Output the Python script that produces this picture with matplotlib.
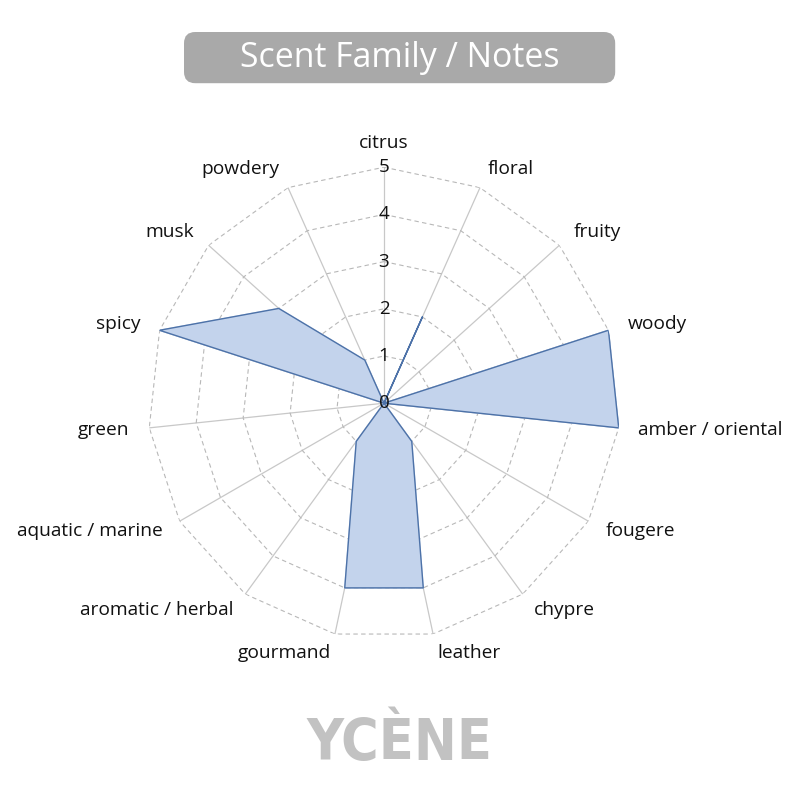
import numpy as np
import matplotlib
matplotlib.use("Agg")
import matplotlib.pyplot as plt
from matplotlib.patches import FancyBboxPatch

categories = ["citrus", "floral", "fruity", "woody", "amber / oriental", "fougere",
              "chypre", "leather", "gourmand", "aromatic / herbal", "aquatic / marine",
              "green", "spicy", "musk", "powdery"]
values = [0, 2, 0, 5, 5, 0, 1, 4, 4, 1, 0, 0, 5, 3, 1]
rings = [1, 2, 3, 4, 5]
tick_labels = ["0", "1", "2", "3", "4", "5"]
title = "Scent Family / Notes"
brand = "YCÈNE"

plt.rcParams['font.family'] = ['Open Sans', 'DejaVu Sans']

fig = plt.figure(figsize=(8, 8), dpi=100)
fig.patch.set_facecolor('white')

ax = fig.add_axes([0.185, 0.201, 0.59, 0.59], projection='polar')
ax.set_theta_offset(np.pi / 2)
ax.set_theta_direction(-1)
ax.set_ylim(0, 5)
ax.grid(False)
ax.spines['polar'].set_visible(False)
ax.set_xticks([])
ax.set_yticks([])
ax.set_facecolor('none')

n = len(categories)
angles = np.linspace(0, 2 * np.pi, n, endpoint=False)
closed = np.concatenate([angles, angles[:1]])

# spokes
for a in angles:
    ax.plot([a, a], [0, rings[-1]], color='#c8c8c8', lw=0.9, zorder=1)
# polygon rings
for r in rings:
    ax.plot(closed, [r] * (n + 1), color='#b8b8b8', lw=0.8, ls=(0, (4, 3)), zorder=1)

vals = np.array(values + values[:1], dtype=float)
ax.fill(closed, vals, color='#c3d3ec', alpha=1.0, zorder=2)
ax.plot(closed, vals, color='#4d72a8', lw=1.0, zorder=3)

# tick labels along top axis
for i, t in enumerate(tick_labels):
    ax.text(0, i, t, ha='center', va='center', fontsize=13.5, color='#111111', zorder=5)

# category labels
for a, c in zip(angles, categories):
    s = np.sin(a)
    if s > 0.01:
        ha = 'left'
    elif s < -0.01:
        ha = 'right'
    else:
        ha = 'center'
    va = 'bottom' if abs(s) < 0.01 else 'center'
    r = 5.32 if abs(s) < 0.01 else 5.42
    ax.text(a, r, c, ha=ha, va=va, fontsize=13.8, color='#111111')

# title box
box = FancyBboxPatch((0.23, 0.896), 0.539, 0.064, boxstyle="round,pad=0,rounding_size=0.014",
                     transform=fig.transFigure, facecolor='#a9a9a9', edgecolor='none')
fig.patches.append(box)
fig.text(0.5, 0.928, title, ha='center', va='center', fontsize=24.4, color='white')

# brand watermark
fig.text(0.5, 0.069, brand, ha='center', va='center', fontsize=41, fontweight='bold',
         fontstretch='condensed', family=['DejaVu Sans'], color='#c2c2c2')

fig.savefig('out.png', dpi=100, facecolor='white')
